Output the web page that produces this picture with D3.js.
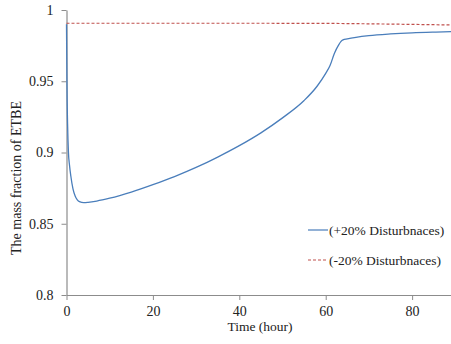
<!DOCTYPE html>
<html>
<head>
<meta charset="utf-8">
<script src="https://cdn.jsdelivr.net/npm/d3@7"></script>
<style>
  body { margin: 0; background: #fff; }
</style>
</head>
<body>
<div class="svg"></div>
<script>
// time in hours and mass fraction of ETBE
var timePlus = [0, 0.05, 0.1, 0.25, 0.45, 0.7, 1, 1.5, 2, 2.5, 3, 4, 5, 7, 10, 15, 20, 25, 30, 35, 40, 45, 50, 55, 58, 60, 61, 62, 63, 63.5, 64, 65, 67, 70, 75, 80, 85, 89];
var fracPlus = [0.99, 0.97, 0.95, 0.92, 0.9, 0.891, 0.8835, 0.8745, 0.8695, 0.8668, 0.8655, 0.8648, 0.865, 0.8659, 0.8679, 0.8722, 0.8774, 0.8831, 0.8895, 0.8968, 0.9048, 0.9138, 0.9243, 0.9365, 0.9465, 0.9555, 0.961, 0.9695, 0.9755, 0.9778, 0.979, 0.9797, 0.9808, 0.982, 0.9832, 0.984, 0.9845, 0.9848];

var timeMinus = [0, 20, 40, 60, 70, 80, 89];
var fracMinus = [0.9907, 0.9907, 0.9907, 0.9906, 0.9903, 0.9899, 0.9895];

var seriesNames = ['(+20% Disturbnaces)', '(-20% Disturbnaces)'];
var xTicks = [0, 20, 40, 60, 80];
var yTicks = [0.8, 0.85, 0.9, 0.95, 1];

var width = 451;
var height = 344;
var margin = { left: 66.5, right: 0, top: 10, bottom: 49 };
var font = '"Liberation Serif"';

var svg = d3.select('div.svg')
    .append('svg')
    .attr('width', width)
    .attr('height', height);

var x = d3.scaleLinear()
    .domain([0, 89])
    .range([margin.left, width - margin.right]);

var y = d3.scaleLinear()
    .domain([0.8, 1])
    .range([height - margin.bottom, margin.top]);

var xAxis = svg.append('g')
    .attr('transform', 'translate(0,' + (height - margin.bottom) + ')')
    .call(d3.axisBottom(x).tickValues(xTicks).tickSize(5).tickSizeOuter(0).tickPadding(4));

var yAxis = svg.append('g')
    .attr('transform', 'translate(' + margin.left + ',0)')
    .call(d3.axisLeft(y).tickValues(yTicks).tickSize(5).tickSizeOuter(0).tickPadding(8)
        .tickFormat(d => String(+d.toFixed(2))));

[xAxis, yAxis].forEach(function (a) {
    a.select('.domain').attr('stroke', '#8c8c8c').attr('stroke-width', 1.2);
    a.selectAll('.tick line').attr('stroke', '#8c8c8c');
    a.selectAll('.tick text')
        .style('font-family', font)
        .style('font-size', '14px')
        .attr('fill', '#222');
});
xAxis.selectAll('.tick text').attr('dy', '0.85em');

svg.append('text')
    .attr('x', 260)
    .attr('y', 331)
    .attr('text-anchor', 'middle')
    .style('font-family', font)
    .style('font-size', '13.5px')
    .attr('fill', '#222')
    .text('Time (hour)');

svg.append('text')
    .attr('transform', 'translate(21,' + 178 + ') rotate(-90)')
    .attr('text-anchor', 'middle')
    .style('font-family', font)
    .style('font-size', '14px')
    .attr('fill', '#222')
    .text('The mass fraction of ETBE');

var line = d3.line()
    .x(d => x(d[0]))
    .y(d => y(d[1]))
    .curve(d3.curveMonotoneX);

svg.append('path')
    .datum(d3.zip(timeMinus, fracMinus))
    .attr('fill', 'none')
    .attr('stroke', '#c0504d')
    .attr('stroke-width', 1.2)
    .attr('stroke-dasharray', '3,2')
    .attr('d', line);

svg.append('path')
    .datum(d3.zip(timePlus, fracPlus))
    .attr('fill', 'none')
    .attr('stroke', '#4a7ebb')
    .attr('stroke-width', 1.3)
    .attr('d', line);

// legend
var legend = svg.append('g');
var styles = [
    { stroke: '#4a7ebb', dash: null },
    { stroke: '#c0504d', dash: '3,2' }
];
seriesNames.forEach(function (name, i) {
    var ly = 230 + i * 30;
    legend.append('line')
        .attr('x1', 308).attr('x2', 328)
        .attr('y1', ly).attr('y2', ly)
        .attr('stroke', styles[i].stroke)
        .attr('stroke-width', 1.2)
        .attr('stroke-dasharray', styles[i].dash);
    legend.append('text')
        .attr('x', 329)
        .attr('y', ly + 4.5)
        .style('font-family', font)
        .style('font-size', '13.5px')
        .attr('fill', '#222')
        .text(name);
});
</script>
</body>
</html>
